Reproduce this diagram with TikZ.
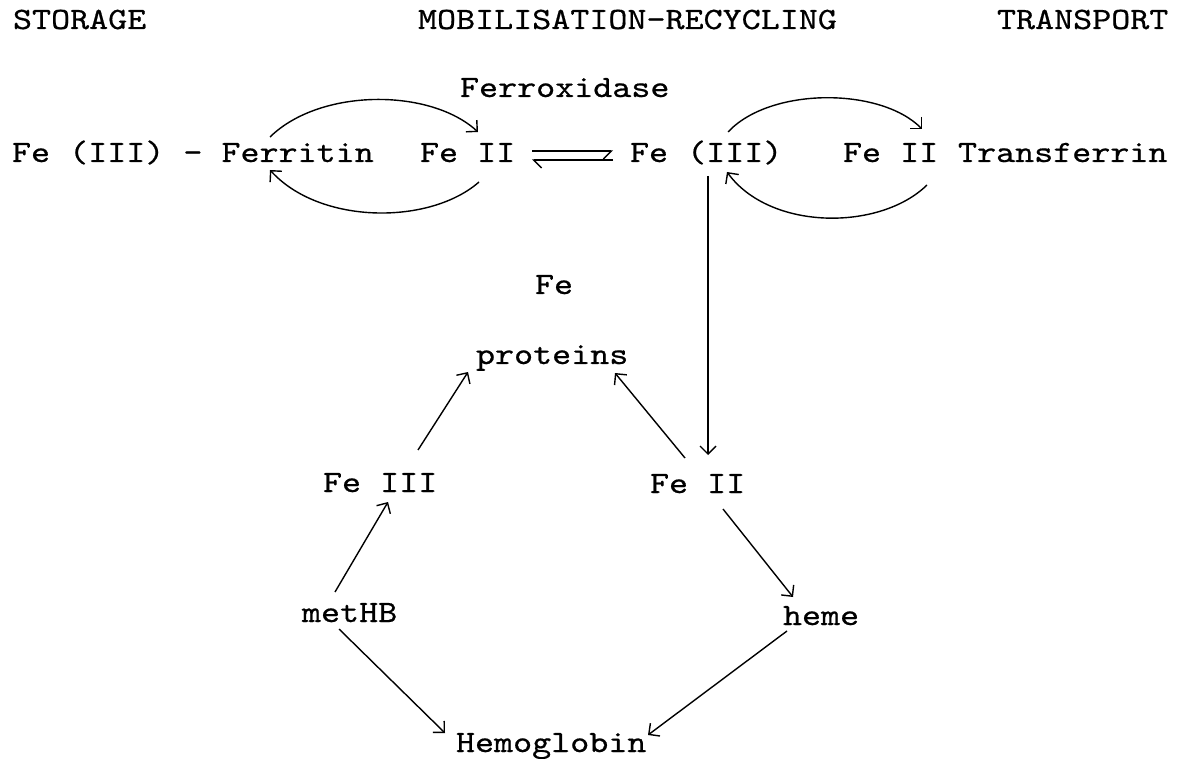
\documentclass[tikz,border=0pt]{standalone}
\usepackage{fontspec}
\newfontfamily\twfont{lmmono10-regular.otf}[FakeStretch=1.17,FakeBold=0.6]
\usetikzlibrary{arrows.meta}
\begin{document}
\begin{tikzpicture}[x=1pt,y=-1pt,
  lbl/.style={anchor=base west,inner sep=0pt,outer sep=0pt,
              font=\fontsize{31}{31}\selectfont\twfont},
  conn/.style={line width=1.4pt,-{Straight Barb[length=8pt,width=16pt,line width=1.4pt]}},
  loop/.style={line width=1.4pt,-{Straight Barb[length=8pt,width=16pt,line width=1.4pt]}},
  harpr/.style={line width=1.4pt,-{Straight Barb[right,length=8pt,width=16pt,line width=1.4pt]}},
  harpl/.style={line width=1.4pt,-{Straight Barb[left,length=8pt,width=16pt,line width=1.4pt]}}]
\useasboundingbox (0,0) rectangle (1184,759);

% column headings
\node[lbl] (hstore) at (13,29) {STORAGE};
\node[lbl] (hmob)   at (418,29) {MOBILISATION-RECYCLING};
\node[lbl] (htrans) at (997,29) {TRANSPORT};

% storage / transport row
\node[lbl] (ferrox)  at (460,97)  {Ferroxidase};
\node[lbl] (ferritin) at (12,162) {Fe (III) - Ferritin};
\node[lbl] (fe2a)    at (420,162) {Fe II};
\node[lbl] (fe3)     at (630,162) {Fe (III)};
\node[lbl] (fe2c)    at (843,162) {Fe II};
\node[lbl] (transf)  at (958,162) {Transferrin};

% lower cycle
\node[lbl] (fe)      at (535,294) {Fe};
\node[lbl] (prot)    at (476,364) {proteins};
\node[lbl] (fe3b)    at (323,492) {Fe III};
\node[lbl] (fe2b)    at (650,493) {Fe II};
\node[lbl] (methb)   at (302,622) {metHB};
\node[lbl] (heme)    at (783,625) {heme};
\node[lbl] (hemo)    at (456,752) {Hemoglobin};

% ferritin loop
\draw[loop] ([shift={(258,-25)}]ferritin.base west)
  .. controls +(50,-49) and +(-48,-44) .. ([shift={(58,-30)}]fe2a.base west);
\draw[loop] ([shift={(59,20)}]fe2a.base west)
  .. controls +(-49,43) and +(50,55) .. ([shift={(258,8)}]ferritin.base west);

% equilibrium Fe II / Fe (III)
\draw[harpr] ([shift={(112,-11)}]fe2a.base west) -- ([shift={(-17,-11)}]fe3.base west);
\draw[harpl] ([shift={(-17,-2)}]fe3.base west) -- ([shift={(112,-2)}]fe2a.base west);

% transferrin loop
\draw[loop] ([shift={(98,-30)}]fe3.base west)
  .. controls +(42,-45) and +(-42,-42) .. ([shift={(79,-33)}]fe2c.base west);
\draw[loop] ([shift={(84,23)}]fe2c.base west)
  .. controls +(-47,46) and +(43,59) .. ([shift={(97,10)}]fe3.base west);

% Fe (III) down to Fe II
\draw[conn] ([shift={(78,14)}]fe3.base west) -- ([shift={(58,-38)}]fe2b.base west);

% cycle arrows
\draw[conn] ([shift={(33,-30)}]methb.base west) -- ([shift={(65,10)}]fe3b.base west);
\draw[conn] ([shift={(37,7)}]methb.base west) -- ([shift={(-11,-19)}]hemo.base west);
\draw[conn] ([shift={(95,-42)}]fe3b.base west) -- ([shift={(-8,8)}]prot.base west);
\draw[conn] ([shift={(35,-35)}]fe2b.base west) -- ([shift={(139,9)}]prot.base west);
\draw[conn] ([shift={(73,16)}]fe2b.base west) -- ([shift={(10,-28)}]heme.base west);
\draw[conn] ([shift={(4,6)}]heme.base west) -- ([shift={(192,-17)}]hemo.base west);
\end{tikzpicture}
\end{document}
